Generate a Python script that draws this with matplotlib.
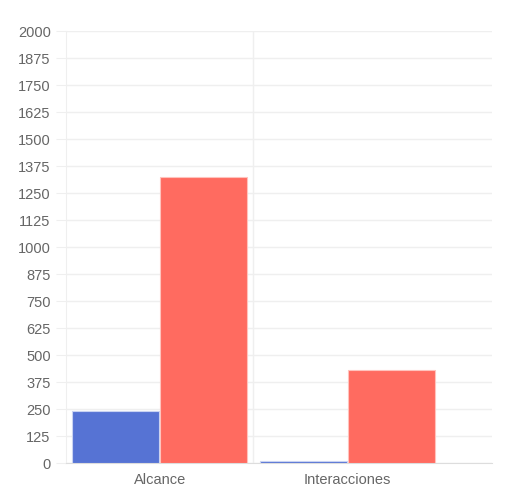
import matplotlib
matplotlib.use('Agg')
import matplotlib.pyplot as plt
import numpy as np

categories = ['Alcance', 'Interacciones']
serie_azul = [241, 8]
serie_roja = [1324, 431]
yticks = np.arange(0, 2001, 125)

plt.rcParams['font.family'] = ['Liberation Sans', 'DejaVu Sans']

fig = plt.figure(figsize=(5.07, 5.03), dpi=100)
ax = fig.add_axes([0.130, 0.0795, 0.840, 0.8585])

x = np.arange(len(categories))
w = 0.464
ax.bar(x - 0.235, serie_azul, w, color='#5673d4', edgecolor='#c9d3f2', linewidth=0.8, zorder=3)
ax.bar(x + 0.235, serie_roja, w, color='#ff6b60', edgecolor='#ffc3bd', linewidth=0.8, zorder=3)

ax.set_ylim(0, 2000)
ax.set_xlim(-0.5, 1.772)
ax.set_yticks(yticks)
ax.set_yticklabels([str(v) for v in yticks])
ax.set_xticks(x)
ax.set_xticklabels(categories)

grid_c = '#efefef'
for v in yticks:
    ax.axhline(v, color=grid_c, linewidth=1, zorder=1)
ax.axvline(0.5, color=grid_c, linewidth=1, zorder=1)

for s in ['top', 'right']:
    ax.spines[s].set_visible(False)
ax.spines['left'].set_color(grid_c)
ax.spines['bottom'].set_color('#dddddd')

ax.tick_params(axis='y', colors=grid_c, labelcolor='#666666', labelsize=10.5, length=7, pad=4)
ax.tick_params(axis='x', length=0, labelcolor='#666666', labelsize=10.5, pad=7)

fig.savefig('out.png', dpi=100)
